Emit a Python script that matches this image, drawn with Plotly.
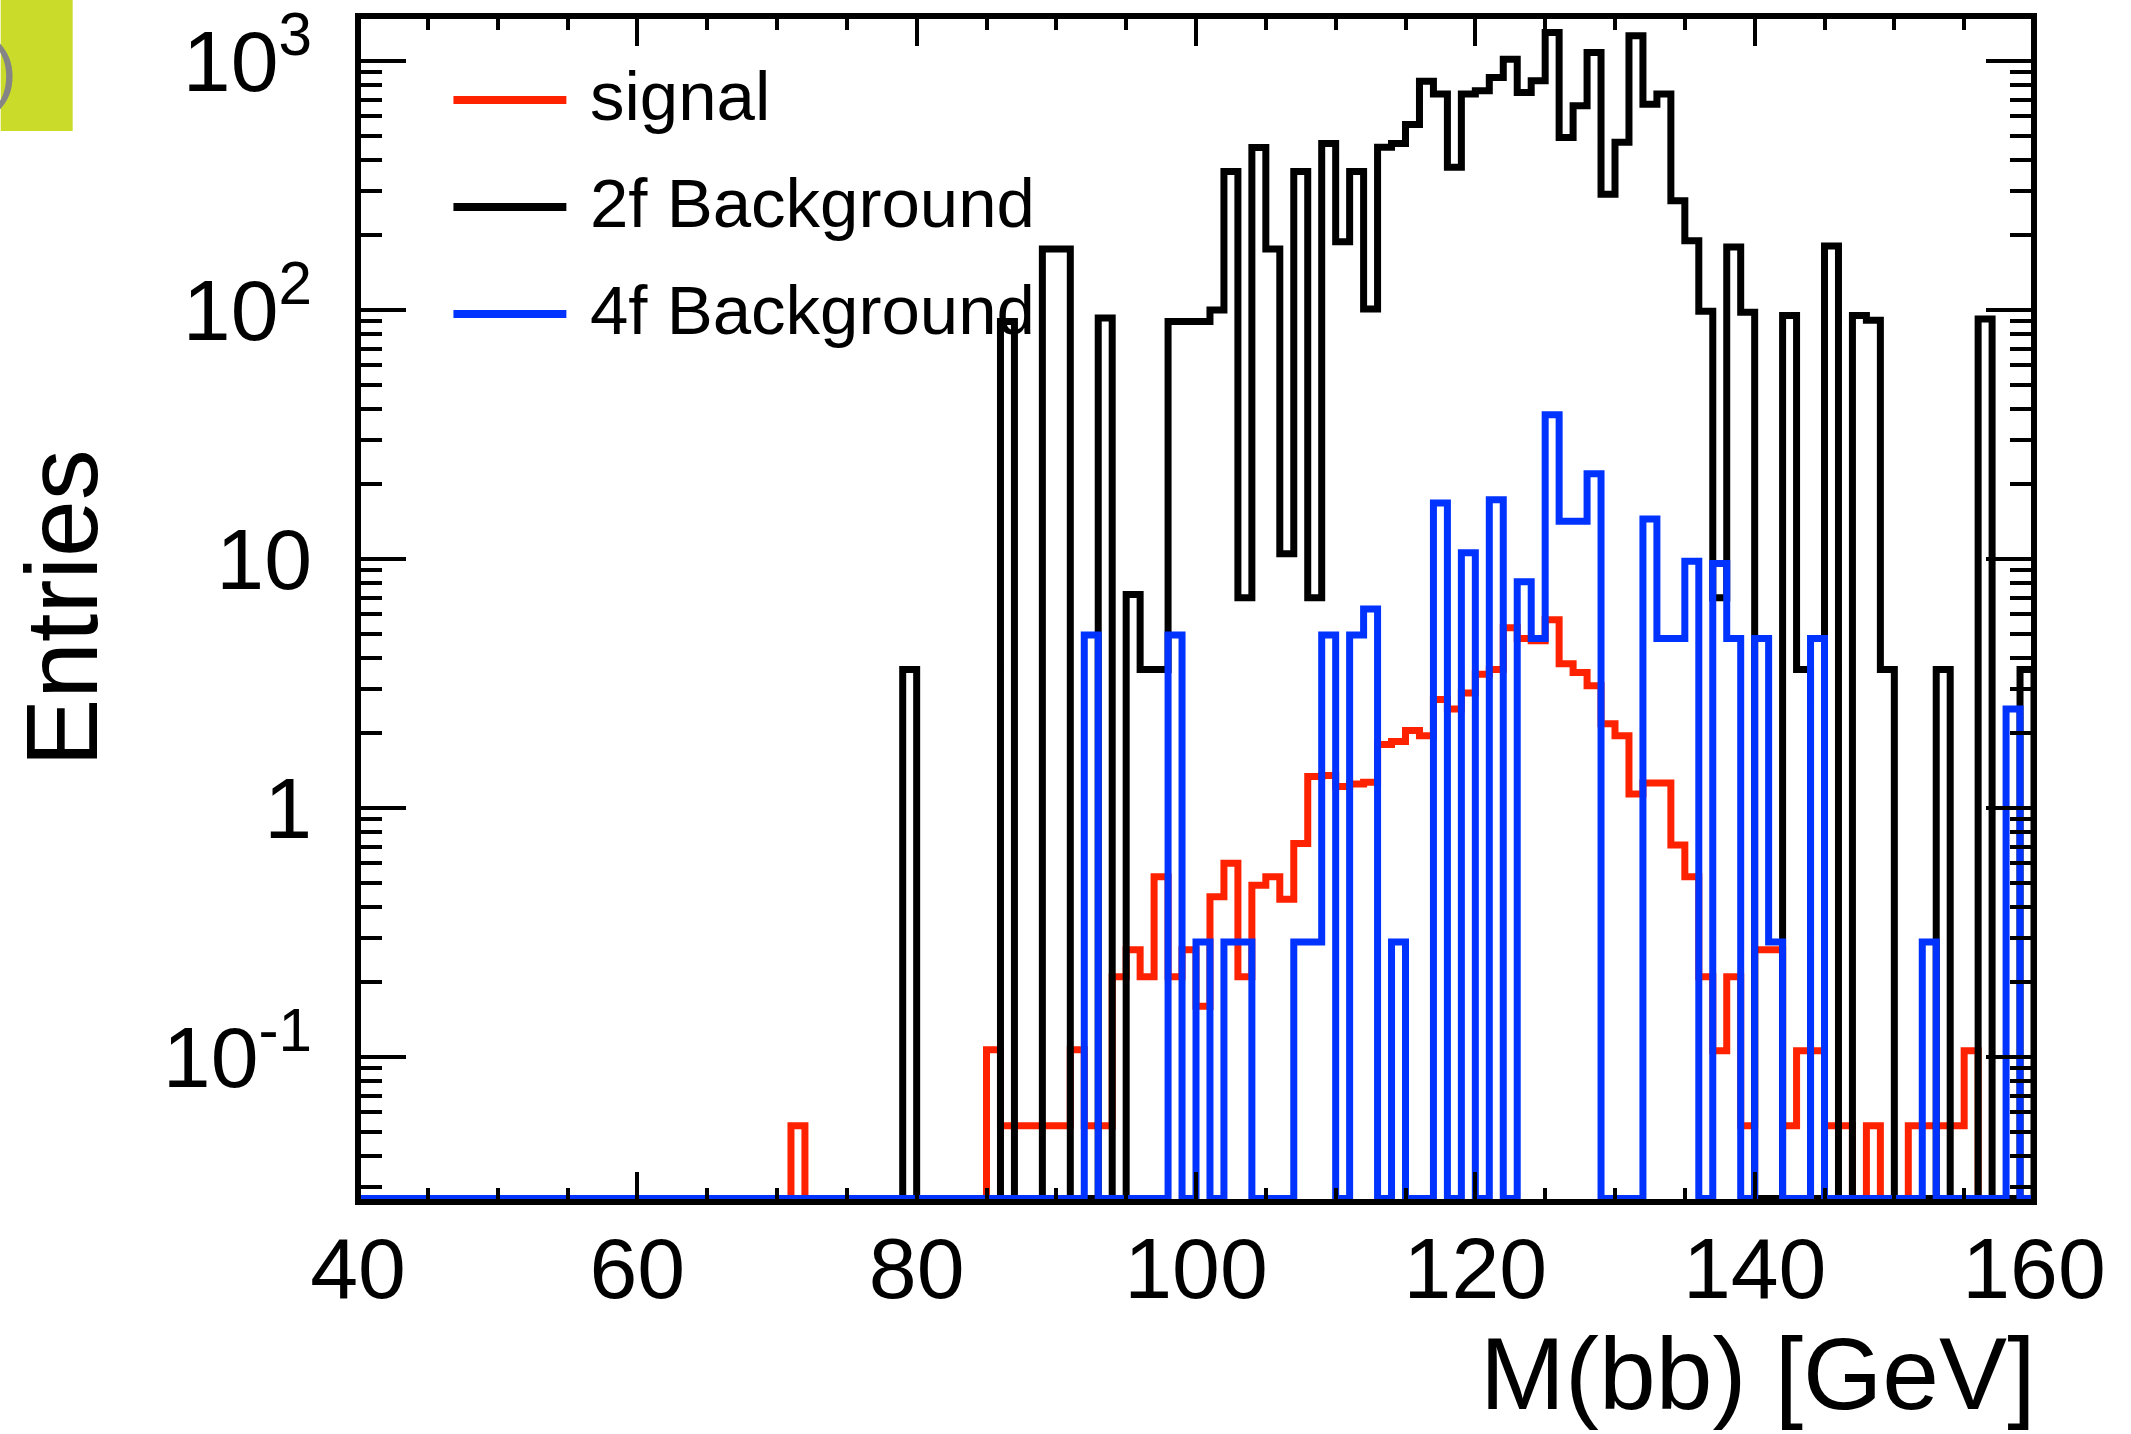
import plotly.graph_objects as go

# ---------------- data ----------------
bin_low_edges = list(range(40, 160))      # M(bb) bins, 1 GeV wide
x_upper_edge = 160

# signal (red)
signal = (
    [0] * 30 +                                                        # 40-69
    [0, 0.053, 0, 0, 0, 0, 0, 0, 0, 0] +                              # 70-79
    [0, 0, 0, 0, 0, 0.107, 0.053, 0.053, 0.053, 0.053] +              # 80-89
    [0.053, 0.107, 0.053, 0.053, 0.21, 0.27, 0.21, 0.53, 0.21, 0.27] +  # 90-99
    [0.16, 0.44, 0.60, 0.21, 0.49, 0.53, 0.43, 0.72, 1.34, 1.35] +    # 100-109
    [1.22, 1.25, 1.27, 1.8, 1.85, 2.05, 1.95, 2.73, 2.5, 2.9] +       # 110-119
    [3.45, 3.6, 5.3, 4.8, 4.7, 5.7, 3.8, 3.5, 3.1, 2.18] +            # 120-129
    [1.95, 1.14, 1.26, 1.26, 0.71, 0.53, 0.21, 0.106, 0.21, 0.053] +  # 130-139
    [0.27, 0.27, 0.053, 0.106, 0.106, 0.053, 0.053, 0, 0.053, 0] +    # 140-149
    [0, 0.053, 0.053, 0.053, 0.053, 0.106, 0, 0, 0, 0]                # 150-159
)

# 2f background (black)
bkg_2f = (
    [0] * 30 +                                                        # 40-69
    [0, 0, 0, 0, 0, 0, 0, 0, 0, 3.6] +                                # 70-79
    [0, 0, 0, 0, 0, 0, 90, 0, 0, 176] +                               # 80-89
    [176, 0, 0, 93, 0, 7.2, 3.6, 3.6, 90, 90] +                       # 90-99
    [90, 100, 360, 7.0, 450, 176, 10.5, 360, 7.0, 467] +              # 100-109
    [188, 360, 101, 451, 467, 556, 830, 737, 375, 737] +              # 110-119
    [760, 860, 1018, 748, 834, 1303, 493, 661, 1083, 292] +           # 120-129
    [472, 1265, 671, 737, 275, 190, 99, 7.0, 179, 98] +               # 130-139
    [0, 0, 95, 3.6, 0, 181, 0, 95, 91, 3.6] +                         # 140-149
    [0, 0, 0, 3.6, 0, 0, 92, 0, 0, 3.6]                               # 150-159
)

# 4f background (blue)
bkg_4f = (
    [0] * 50 +                                                        # 40-89
    [0, 0, 4.95, 0, 0, 0, 0, 0, 4.95, 0] +                            # 90-99
    [0.29, 0, 0.29, 0.29, 0, 0, 0, 0.29, 0.29, 4.95] +                # 100-109
    [0, 4.95, 6.3, 0, 0.29, 0, 0, 16.8, 0, 10.6] +                    # 110-119
    [0, 17.3, 0, 8.1, 4.8, 38, 14.2, 14.2, 22, 0] +                   # 120-129
    [0, 0, 14.5, 4.8, 4.8, 9.8, 0, 9.6, 4.8, 0] +                     # 130-139
    [4.8, 0.29, 0, 0, 4.8, 0, 0, 0, 0, 0] +                           # 140-149
    [0, 0, 0.29, 0, 0, 0, 0, 0, 2.5, 0]                               # 150-159
)

series_names = ["signal", "2f Background", "4f Background"]
series_colors = ["#ff2200", "#000000", "#0033ff"]

x_tick_vals = [40, 60, 80, 100, 120, 140, 160]
y_tick_vals = [0.1, 1, 10, 100, 1000]
y_tick_text = ["10<sup>-1</sup>", "1", "10", "10<sup>2</sup>", "10<sup>3</sup>"]
y_minor_vals = [k * 10.0 ** d for d in range(-2, 4) for k in range(2, 10)]

# ---------------- geometry ----------------
W, H = 2131, 1434
L, R, T, B = 357.5, 96.5, 16, 232
PW, PH = W - L - R, H - T - B
Y_LOG_MIN, Y_LOG_MAX = -1.582, 3.181
floor_val = 10 ** (Y_LOG_MIN + 0.014)


def px_x(px):
    return (px - L) / PW


def px_y(py):
    return (H - B - py) / PH


def step_xy(vals):
    v = [val if val > 0 else floor_val for val in vals]
    xs = [bin_low_edges[0]] + bin_low_edges + [x_upper_edge, x_upper_edge]
    ys = [floor_val] + v + [v[-1], floor_val]
    return xs, ys


FONT = "Liberation Sans, Arial, Helvetica, sans-serif"

fig = go.Figure()
for vals, name, col in zip([signal, bkg_2f, bkg_4f], series_names, series_colors):
    xs, ys = step_xy(vals)
    fig.add_trace(go.Scatter(x=xs, y=ys, mode="lines", name=name,
                             line=dict(color=col, width=7, shape="hv"),
                             showlegend=False, hoverinfo="skip"))

# frame drawn centred on the plot-area edges (ROOT style)
shapes = [dict(type="rect", xref="paper", yref="paper", x0=0, x1=1, y0=0, y1=1,
               line=dict(color="black", width=6), layer="above")]
annotations = []

# manual legend (ROOT-style)
legend_rows_y = [100, 207, 314]
for name, col, ly in zip(series_names, series_colors, legend_rows_y):
    shapes.append(dict(type="line", xref="paper", yref="paper",
                       x0=px_x(453), x1=px_x(566), y0=px_y(ly), y1=px_y(ly),
                       line=dict(color=col, width=8)))
    annotations.append(dict(text=name, xref="paper", yref="paper",
                            x=px_x(588), y=px_y(ly - 4), xanchor="left", yanchor="middle",
                            showarrow=False, font=dict(family=FONT, size=69, color="black")))

# corner tag (cropped label box)
shapes.append(dict(type="rect", xref="paper", yref="paper",
                   x0=px_x(0), x1=px_x(72), y0=px_y(131), y1=px_y(0),
                   fillcolor="#cbdb2a", line=dict(width=0), layer="below"))
annotations.append(dict(text=")", xref="paper", yref="paper", x=px_x(18), y=px_y(70),
                        xanchor="right", yanchor="middle", showarrow=False,
                        font=dict(family=FONT, size=72, color="#858585")))

# axis titles
annotations.append(dict(text="M(bb) [GeV]", xref="paper", yref="paper",
                        x=px_x(2038), y=px_y(1374), xanchor="right", yanchor="middle",
                        showarrow=False, font=dict(family=FONT, size=102, color="black")))
annotations.append(dict(text="Entries", xref="paper", yref="paper",
                        x=px_x(61), y=px_y(608), xanchor="center", yanchor="middle",
                        textangle=-90, showarrow=False,
                        font=dict(family=FONT, size=102, color="black")))

fig.update_layout(
    width=W, height=H, autosize=False,
    margin=dict(l=L, r=R, t=T, b=B, pad=0, autoexpand=False),
    paper_bgcolor="white", plot_bgcolor="white",
    font=dict(family=FONT, color="black"),
    shapes=shapes, annotations=annotations,
    showlegend=False,
)
fig.update_xaxes(
    range=[40, 160], showgrid=False, zeroline=False, automargin=False,
    showline=False, mirror="ticks",
    ticks="inside", ticklen=30, tickwidth=4, tickcolor="black",
    tickmode="array", tickvals=x_tick_vals,
    tickfont=dict(family=FONT, size=86, color="black"),
    ticklabelstandoff=9,
    minor=dict(ticks="inside", ticklen=14, tickwidth=4, tickcolor="black",
               tick0=40, dtick=5, showgrid=False),
)
fig.update_yaxes(
    type="log", range=[Y_LOG_MIN, Y_LOG_MAX], showgrid=False, zeroline=False,
    automargin=False, showline=False, mirror="ticks",
    ticks="inside", ticklen=48, tickwidth=4, tickcolor="black",
    tickmode="array", tickvals=y_tick_vals, ticktext=y_tick_text,
    tickfont=dict(family=FONT, size=86, color="black"),
    ticklabelstandoff=45,
    minor=dict(ticks="inside", ticklen=24, tickwidth=4, tickcolor="black",
               tickmode="array", tickvals=y_minor_vals, showgrid=False),
)

fig.write_html("out.html", config={"displayModeBar": False},
               post_script="document.body.style.margin='0px';document.body.style.padding='0px';")
